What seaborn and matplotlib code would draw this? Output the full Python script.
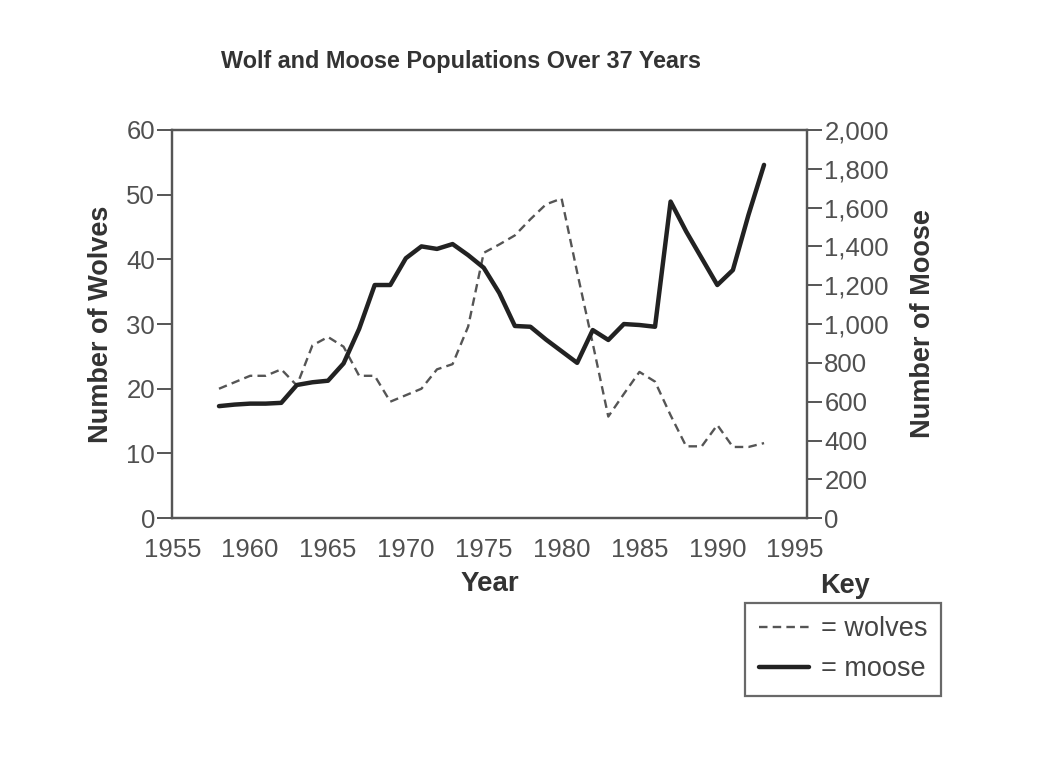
import matplotlib
matplotlib.use("Agg")
import matplotlib.pyplot as plt
import seaborn as sns
import pandas as pd

# values
years = list(range(1958, 1994))
wolves = [20, 21, 22, 22, 23, 20.5, 26.7, 28, 26.5, 22, 22, 18, 19, 20, 23, 23.8,
          29.6, 41, 42.3, 43.7, 46.2, 48.5, 49.4, 38, 27, 15.7, 19.2, 22.6, 21.1,
          15.9, 11.1, 11.1, 14.4, 11, 11, 11.6]
moose = [577, 585, 590, 590, 594, 686, 700, 708, 797, 975, 1201, 1201, 1339, 1400,
         1387, 1412, 1355, 1290, 1160, 990, 986, 920, 860, 800, 969, 918, 1000, 995,
         986, 1631, 1477, 1339, 1201, 1278, 1562, 1820]

wolf_ticks = list(range(0, 61, 10))
moose_ticks = list(range(0, 2001, 200))

df = pd.DataFrame({"Year": years, "Wolves": wolves, "Moose": moose})

sns.set_style("white")
plt.rcParams["font.family"] = ["Liberation Sans", "DejaVu Sans"]

tick_col = "#505050"
spine_col = "#555555"
label_col = "#333333"

fig = plt.figure(figsize=(10.44, 7.78), dpi=100)
ax = fig.add_axes([0.165, 0.334, 0.608, 0.499])
ax2 = ax.twinx()

sns.lineplot(data=df, x="Year", y="Wolves", ax=ax, color="#555555",
             linewidth=1.7, linestyle=(0, (3.6, 2.2)))
sns.lineplot(data=df, x="Year", y="Moose", ax=ax2, color="#222222",
             linewidth=3.2)

ax.set_xlim(1955, 1995.76)
ax.set_ylim(0, 60)
ax2.set_ylim(0, 2000)
ax.set_xticks(range(1955, 1996, 5))
ax.set_yticks(wolf_ticks)
ax2.set_yticks(moose_ticks)
ax2.set_yticklabels([f"{v:,}" for v in moose_ticks])

for a in (ax, ax2):
    for s in a.spines.values():
        s.set_color(spine_col)
        s.set_linewidth(1.6)
        s.set_visible(True)
    a.tick_params(direction="out", length=10.5, width=1.4, color=spine_col,
                  labelsize=18.5, labelcolor=tick_col, pad=2)
ax.tick_params(axis="x", pad=3.5)

ax.set_xlabel("Year", fontsize=20, fontweight="bold", color=label_col, labelpad=7)
ax.set_ylabel("Number of Wolves", fontsize=19.5, fontweight="bold", color=label_col,
              labelpad=9)
ax2.set_ylabel("Number of Moose", fontsize=19.5, fontweight="bold", color=label_col,
               labelpad=15)

fig.text(0.442, 0.921, "Wolf and Moose Populations Over 37 Years",
         fontsize=16.8, fontweight="bold", color=label_col, ha="center", va="center")

# key
fig.text(0.809, 0.247, "Key", fontsize=19.5, fontweight="bold", color=label_col,
         ha="center", va="center")
h1 = ax.get_lines()[0]
h2 = ax2.get_lines()[0]
leg = fig.legend([h1, h2], ["= wolves", "= moose"], loc="upper left",
                 bbox_to_anchor=(0.7136, 0.225), fontsize=19.5, frameon=True,
                 fancybox=False, handlelength=1.85, handletextpad=0.45,
                 borderpad=0.5, labelspacing=0.5, borderaxespad=0)
leg.get_frame().set_edgecolor("#444444")
leg.get_frame().set_linewidth(1.6)
for t in leg.get_texts():
    t.set_color("#444444")

fig.savefig("out.png", dpi=100, facecolor="white")
